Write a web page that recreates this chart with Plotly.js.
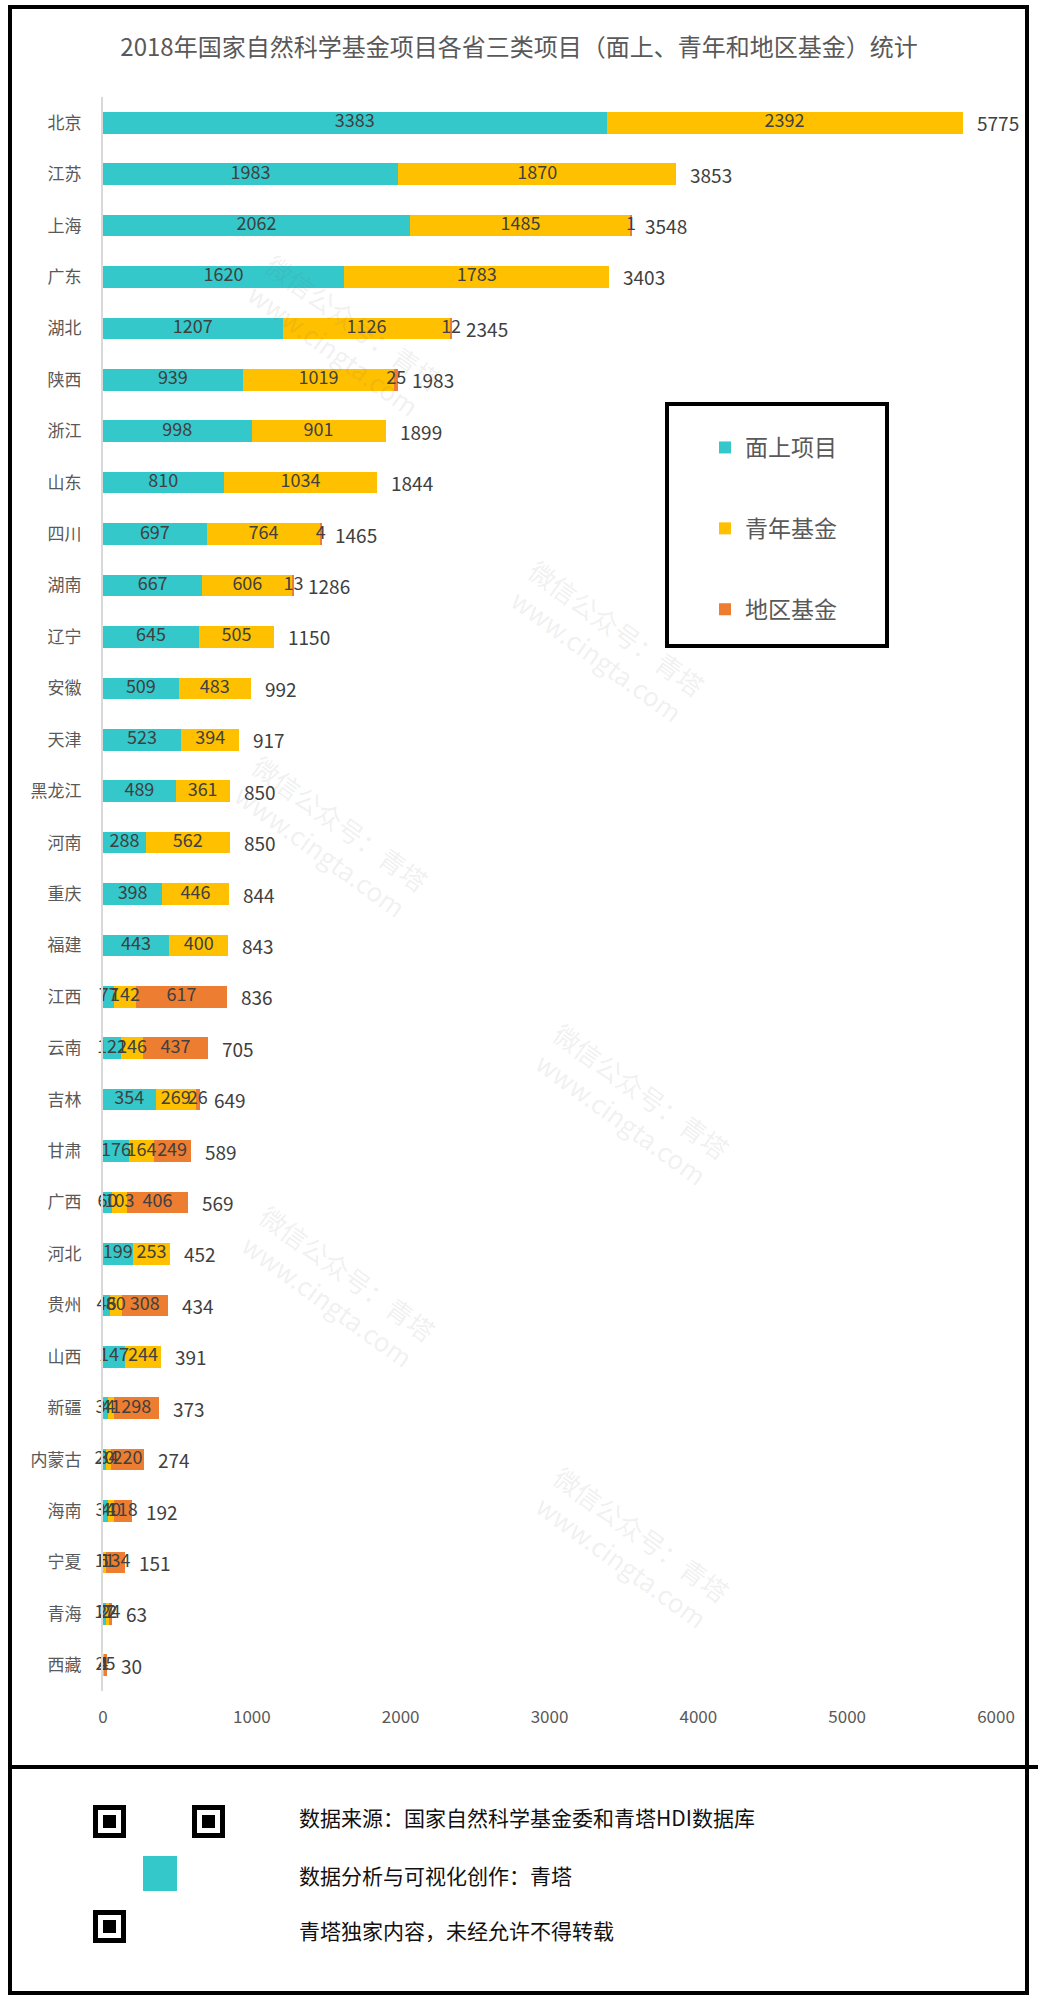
<!DOCTYPE html>
<html>
<head>
<meta charset="utf-8">
<script src="https://cdn.plot.ly/plotly-3.0.1.min.js"></script>
<style>
  body { margin: 0; background: #fff; }
  #chart { width: 1038px; height: 2001px; }
</style>
</head>
<body>
<div id="chart"></div>
<script>
// 2018 NSFC grants per province: general, young scientist and regional funds
var provinces = ['北京', '江苏', '上海', '广东', '湖北', '陕西', '浙江', '山东', '四川', '湖南',
    '辽宁', '安徽', '天津', '黑龙江', '河南', '重庆', '福建', '江西', '云南', '吉林',
    '甘肃', '广西', '河北', '贵州', '山西', '新疆', '内蒙古', '海南', '宁夏', '青海', '西藏']
var faceProjects = [3383, 1983, 2062, 1620, 1207, 939, 998, 810, 697, 667,
    645, 509, 523, 489, 288, 398, 443, 77, 122, 354,
    176, 60, 199, 46, 147, 34, 20, 34, 6, 17, 4]
var youthFund = [2392, 1870, 1485, 1783, 1126, 1019, 901, 1034, 764, 606,
    505, 483, 394, 361, 562, 446, 400, 142, 146, 269,
    164, 103, 253, 80, 244, 41, 34, 40, 11, 22, 1]
var regionFund = [0, 0, 1, 0, 12, 25, 0, 0, 4, 13,
    0, 0, 0, 0, 0, 0, 0, 617, 437, 26,
    249, 406, 0, 308, 0, 298, 220, 118, 134, 24, 25]
var totals = [5775, 3853, 3548, 3403, 2345, 1983, 1899, 1844, 1465, 1286,
    1150, 992, 917, 850, 850, 844, 843, 836, 705, 649,
    589, 569, 452, 434, 391, 373, 274, 192, 151, 63, 30]
var seriesNames = ['面上项目', '青年基金', '地区基金']
var xTicks = [0, 1000, 2000, 3000, 4000, 5000, 6000]

var W = 1038, H = 2001
var M = { l: 103, r: 42, t: 97, b: 310 }
var plotW = W - M.l - M.r
var plotH = H - M.t - M.b
// pixel -> paper helpers for the frame and footer decorations
function px(x) { return (x - M.l) / plotW }
function py(y) { return 1 - (y - M.t) / plotH }

var FONT = '"Noto Sans CJK SC", "Noto Sans", sans-serif'
var colors = ['#35c8ca', '#ffc000', '#ed7d31']
var series = [faceProjects, youthFund, regionFund]

var traces = series.map((vals, k) => ({
    type: 'bar',
    orientation: 'h',
    name: seriesNames[k],
    legendgroup: 'g' + k,
    x: vals,
    y: provinces,
    marker: { color: colors[k], line: { width: 0 } },
    textposition: 'none',
    hoverinfo: 'x+y+name'
}))

// segment labels sit at the middle of each stacked piece, free to spill over
series.forEach((vals, k) => {
    var mids = vals.map((v, i) => {
        var start = 0
        for (var j = 0; j < k; j++) start += series[j][i]
        return start + v / 2
    })
    traces.push({
        type: 'scatter',
        mode: 'text',
        x: mids,
        y: provinces,
        text: vals.map(v => v > 0 ? String(v) : ''),
        textposition: 'middle center',
        textfont: { family: FONT, size: 18, color: '#404040' },
        cliponaxis: false,
        showlegend: false,
        hoverinfo: 'skip'
    })
})

var annotations = provinces.map((p, i) => ({
    x: totals[i], y: p, xref: 'x', yref: 'y',
    xanchor: 'left', yanchor: 'middle', xshift: 12,
    text: String(totals[i]), showarrow: false,
    font: { family: FONT, size: 19, color: '#404040' }
}))

// watermark
var marks = [[236, 243], [223, 836], [230, 1379], [715, 549], [632, 1104], [632, 1640]]
marks.forEach(m => annotations.push({
    x: px(m[0]), y: py(m[1]), xref: 'paper', yref: 'paper',
    text: '微信公众号：青塔<br>www.cingta.com', showarrow: false,
    textangle: 36,
    font: { family: FONT, size: 26, color: 'rgba(110,110,110,0.11)' }
}))

// footer
var footer = [
    ['数据来源：国家自然科学基金委和青塔HDI数据库', 1817],
    ['数据分析与可视化创作：青塔', 1875],
    ['青塔独家内容，未经允许不得转载', 1930]
]
footer.forEach(f => annotations.push({
    x: px(297), y: py(f[1]), xref: 'paper', yref: 'paper',
    xanchor: 'left', yanchor: 'middle', text: f[0], showarrow: false,
    font: { family: FONT, size: 21, color: '#111' }
}))

function rect(x0, y0, x1, y1, opts) {
    return Object.assign({
        type: 'rect', xref: 'paper', yref: 'paper', layer: 'above',
        x0: px(x0), x1: px(x1), y0: py(y0), y1: py(y1),
        line: { width: 0 }
    }, opts)
}

var shapes = [
    rect(10, 7, 1027, 1993, { line: { color: '#000', width: 4 } }),
    { type: 'line', xref: 'paper', yref: 'paper', x0: px(10), x1: px(1038),
      y0: py(1767), y1: py(1767), line: { color: '#000', width: 4 } },
    // legend frame
    rect(667, 404, 887, 646, { line: { color: '#000', width: 4 } })
]

// qr code placeholder: finder squares + logo
var finders = [[93, 1805], [192, 1805], [93, 1910]]
finders.forEach(f => {
    shapes.push(rect(f[0], f[1], f[0] + 33, f[1] + 33, { fillcolor: '#000' }))
    shapes.push(rect(f[0] + 5, f[1] + 5, f[0] + 28, f[1] + 28, { fillcolor: '#fff' }))
    shapes.push(rect(f[0] + 10, f[1] + 10, f[0] + 23, f[1] + 23, { fillcolor: '#000' }))
})
shapes.push(rect(143, 1856, 177, 1891, { fillcolor: '#35c8ca' }))

var layout = {
    width: W,
    height: H,
    margin: M,
    paper_bgcolor: '#fff',
    plot_bgcolor: '#fff',
    barmode: 'stack',
    bargap: 0.58,
    showlegend: true,
    title: {
        text: '2018年国家自然科学基金项目各省三类项目（面上、青年和地区基金）统计',
        font: { family: FONT, size: 24, color: '#595959' },
        x: 0.5, xanchor: 'center', y: 1 - 48 / H, yanchor: 'middle'
    },
    xaxis: {
        range: [0, 6000],
        tickvals: xTicks,
        showgrid: false,
        zeroline: false,
        showline: false,
        ticks: '',
        ticklabelstandoff: 14,
        tickfont: { family: FONT, size: 17, color: '#595959' }
    },
    yaxis: {
        type: 'category',
        categoryarray: provinces,
        range: [provinces.length - 0.5, -0.5],
        showgrid: false,
        zeroline: false,
        showline: true,
        linecolor: '#d9d9d9',
        linewidth: 2,
        ticks: '',
        ticklabelstandoff: 16,
        tickfont: { family: FONT, size: 17, color: '#595959' }
    },
    legend: {
        x: px(705), y: py(426), xanchor: 'left', yanchor: 'top',
        traceorder: 'grouped',
        tracegroupgap: 48,
        bgcolor: 'rgba(0,0,0,0)',
        font: { family: FONT, size: 23, color: '#595959' }
    },
    annotations: annotations,
    shapes: shapes
}

Plotly.newPlot('chart', traces, layout, { displayModeBar: false })
</script>
</body>
</html>
